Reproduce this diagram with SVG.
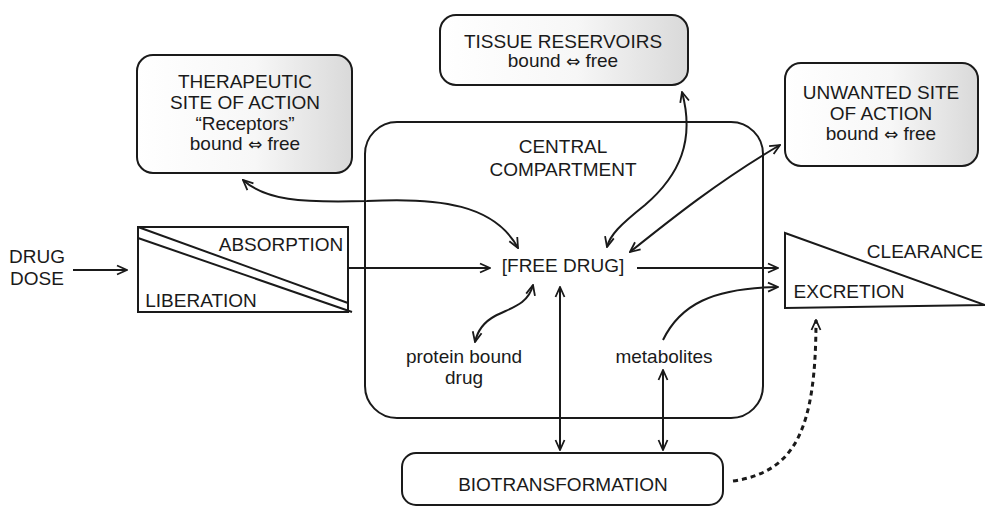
<svg xmlns="http://www.w3.org/2000/svg" width="985" height="511" viewBox="0 0 985 511">
<style>
text{font-family:"Liberation Sans",Arial,sans-serif;font-size:19px;fill:#1a1a1a;text-anchor:middle}
.arr{font-family:"DejaVu Sans",sans-serif;font-size:17px}
.box{fill:url(#shade);stroke:#1a1a1a;stroke-width:2}
.plain{fill:none;stroke:#1a1a1a;stroke-width:2}
.c{fill:none;stroke:#1a1a1a;stroke-width:2}
.a1{marker-end:url(#ah)}
.a2{marker-start:url(#ah);marker-end:url(#ah)}
.dash{fill:none;stroke:#1a1a1a;stroke-width:3;stroke-dasharray:5 4;marker-end:url(#ah)}
</style>
<defs>
<linearGradient id="shade" x1="0" y1="0" x2="1" y2="0">
<stop offset="0" stop-color="#ffffff"/>
<stop offset="0.55" stop-color="#f7f7f7"/>
<stop offset="1" stop-color="#d9d9d9"/>
</linearGradient>
<marker id="ah" viewBox="0 0 12 12" refX="11" refY="6" markerWidth="12" markerHeight="12" markerUnits="userSpaceOnUse" orient="auto-start-reverse">
<path d="M1,1.5 L11,6 L1,10.5" fill="none" stroke="#1a1a1a" stroke-width="1.8"/>
</marker>
</defs>
<rect width="985" height="511" fill="#ffffff"/>

<g id="central">
<rect class="plain" x="365" y="122" width="398" height="296" rx="32"/>
<text x="563" y="153">CENTRAL</text>
<text x="563" y="176">COMPARTMENT</text>
</g>

<g id="therapeutic">
<rect class="box" x="137" y="55" width="215" height="118" rx="16"/>
<text x="245" y="88">THERAPEUTIC</text>
<text x="245" y="109">SITE OF ACTION</text>
<text x="245" y="130">“Receptors”</text>
<text x="245" y="150">bound <tspan class="arr">⇔</tspan> free</text>
</g>

<g id="tissue">
<rect class="box" x="440" y="15" width="248" height="70" rx="16"/>
<text x="563" y="48">TISSUE RESERVOIRS</text>
<text x="563" y="67">bound <tspan class="arr">⇔</tspan> free</text>
</g>

<g id="unwanted">
<rect class="box" x="785" y="63" width="193" height="103" rx="16"/>
<text x="881" y="99">UNWANTED SITE</text>
<text x="881" y="120">OF ACTION</text>
<text x="881" y="140">bound <tspan class="arr">⇔</tspan> free</text>
</g>

<g id="dose">
<text x="37" y="263">DRUG</text>
<text x="37" y="285">DOSE</text>
</g>

<g id="absorption">
<rect class="plain" x="138" y="227" width="210" height="85"/>
<line class="plain" x1="138" y1="227" x2="348" y2="303"/>
<line class="plain" x1="138" y1="238" x2="352" y2="312"/>
<text x="281" y="251">ABSORPTION</text>
<text x="201" y="307">LIBERATION</text>
</g>

<g id="freedrug">
<text x="563" y="272">[FREE DRUG]</text>
</g>

<g id="protein">
<text x="464" y="363">protein bound</text>
<text x="464" y="384">drug</text>
</g>

<g id="metabolites">
<text x="664" y="363">metabolites</text>
</g>

<g id="clearance">
<polygon class="plain" points="785,233 785,308 985,305"/>
<text x="983" y="258" style="text-anchor:end">CLEARANCE</text>
<text x="849" y="298">EXCRETION</text>
</g>

<g id="biotransformation">
<rect class="plain" x="402" y="453" width="321" height="52" rx="14"/>
<text x="563" y="491">BIOTRANSFORMATION</text>
</g>

<g id="connectors">
<line class="c a1" x1="73" y1="270" x2="127" y2="270"/>
<line class="c a1" x1="349" y1="268" x2="490" y2="268"/>
<line class="c a1" x1="637" y1="268" x2="778" y2="268"/>
<path class="c a1" d="M663,340 C680,305 712,288 778,287"/>
<path class="c a2" d="M243,180 C265,200 300,203 367,201 C440,197 495,205 518,248"/>
<path class="c a2" d="M682,92 C695,140 680,175 645,205 C620,225 610,235 607,247"/>
<path class="c a2" d="M780,145 C720,180 670,220 630,252"/>
<path class="c a2" d="M533,285 C528,305 510,308 495,316 C482,323 477,333 475,342"/>
<line class="c a2" x1="560" y1="287" x2="560" y2="450"/>
<line class="c a2" x1="663" y1="370" x2="663" y2="450"/>
<path class="dash" d="M733,481 C795,472 816,430 816,320"/>
</g>
</svg>
